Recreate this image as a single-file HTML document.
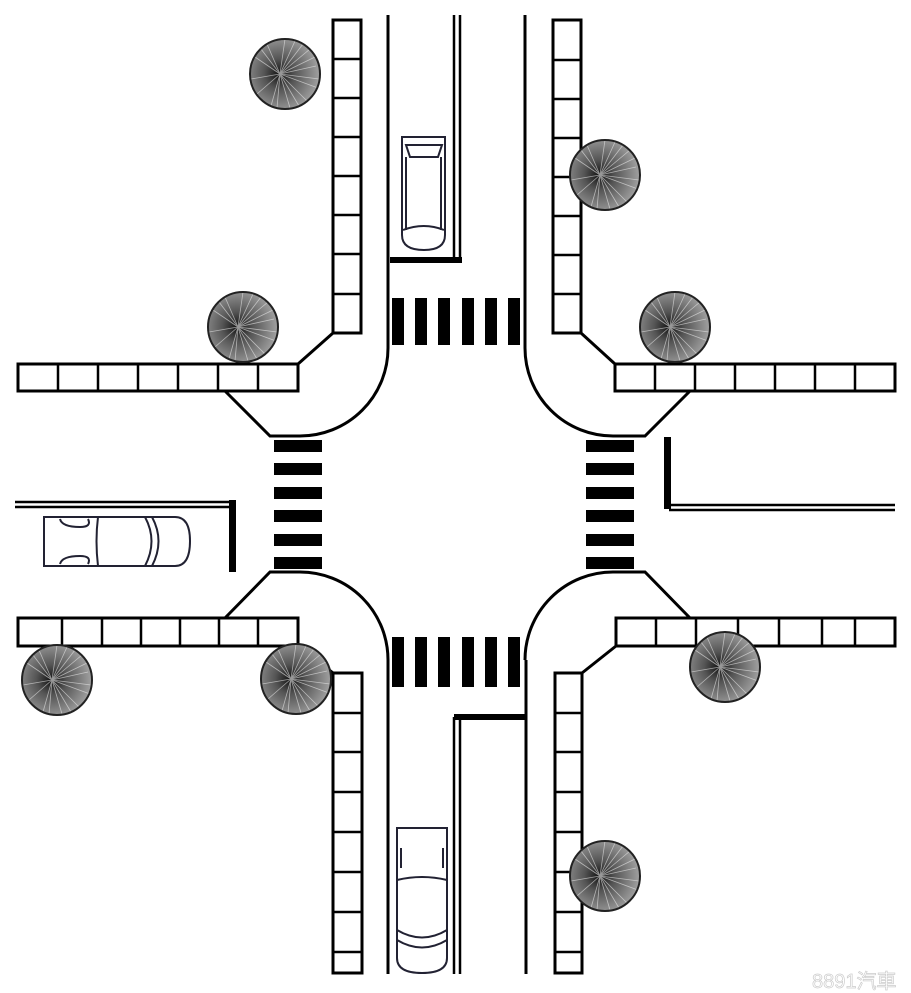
<!DOCTYPE html>
<html><head><meta charset="utf-8"><style>html,body{margin:0;padding:0;background:#fff}svg{display:block}</style></head>
<body>
<svg width="911" height="993" viewBox="0 0 911 993" xmlns="http://www.w3.org/2000/svg">
<defs>
<radialGradient id="tg" cx="0.42" cy="0.5" r="0.62">
<stop offset="0" stop-color="#111"/><stop offset="0.35" stop-color="#555"/><stop offset="1" stop-color="#aaa"/>
</radialGradient>
<g id="tree">
<circle r="35" fill="url(#tg)"/>
<g stroke="#eee" stroke-width="0.8" opacity="0.6">
<line x1="-5" y1="0" x2="34" y2="5"/><line x1="-5" y1="0" x2="30" y2="-17"/><line x1="-5" y1="0" x2="18" y2="-30"/>
<line x1="-5" y1="0" x2="0" y2="-35"/><line x1="-5" y1="0" x2="-18" y2="-30"/><line x1="-5" y1="0" x2="-30" y2="-17"/>
<line x1="-5" y1="0" x2="-34" y2="5"/><line x1="-5" y1="0" x2="-28" y2="20"/><line x1="-5" y1="0" x2="-14" y2="32"/>
<line x1="-5" y1="0" x2="5" y2="34"/><line x1="-5" y1="0" x2="22" y2="27"/><line x1="-5" y1="0" x2="33" y2="14"/>
<line x1="-5" y1="0" x2="25" y2="-25"/><line x1="-5" y1="0" x2="10" y2="-33"/><line x1="-5" y1="0" x2="14" y2="32"/>
<line x1="-5" y1="0" x2="-8" y2="34"/><line x1="-5" y1="0" x2="-24" y2="-25"/><line x1="-5" y1="0" x2="31" y2="-8"/>
</g>
<circle r="35" fill="none" stroke="#222" stroke-width="2"/>
</g>
</defs>
<g fill="none" stroke="#000" stroke-width="3">
<line x1="388" y1="15" x2="388" y2="348"/>
<line x1="525" y1="15" x2="525" y2="348"/>
<path d="M388 348 A88 88 0 0 1 300 436 L270 436 L225 391"/>
<path d="M525 348 A88 88 0 0 0 613 436 L645 436 L690 391"/>
<path d="M388 660 A88 88 0 0 0 300 572 L270 572 L225 618"/>
<path d="M525 660 A88 88 0 0 1 613 572 L645 572 L690 618"/>
<line x1="388" y1="660" x2="388" y2="974"/>
<line x1="526" y1="660" x2="526" y2="974"/>
<rect x="333" y="20" width="28" height="313"/>
<rect x="553" y="20" width="28" height="313"/>
<rect x="333" y="673" width="29" height="300"/>
<rect x="555" y="673" width="27" height="300"/>
<rect x="18" y="364" width="280" height="27"/>
<rect x="615" y="364" width="280" height="27"/>
<rect x="18" y="618" width="280" height="28"/>
<rect x="616" y="618" width="279" height="28"/>
<line x1="333" y1="333" x2="298" y2="364"/>
<line x1="581" y1="333" x2="615" y2="364"/>
<line x1="333" y1="673" x2="298" y2="646"/>
<line x1="582" y1="673" x2="616" y2="646"/>
</g>
<g stroke="#000" stroke-width="2.5">
<path d="M333 59H361M333 98H361M333 137H361M333 176H361M333 215H361M333 254H361M333 294H361"/>
<path d="M553 60H581M553 99H581M553 138H581M553 177H581M553 216H581M553 255H581M553 294H581"/>
<path d="M333 713H362M333 752H362M333 792H362M333 832H362M333 872H362M333 912H362M333 952H362"/>
<path d="M555 713H582M555 752H582M555 792H582M555 832H582M555 872H582M555 912H582M555 952H582"/>
<path d="M58 364V391M98 364V391M138 364V391M178 364V391M218 364V391M258 364V391"/>
<path d="M655 364V391M695 364V391M735 364V391M775 364V391M815 364V391M855 364V391"/>
<path d="M62 618V646M102 618V646M141 618V646M180 618V646M219 618V646M258 618V646"/>
<path d="M656 618V646M696 618V646M738 618V646M779 618V646M822 618V646M855 618V646"/>
<path d="M454 15V262M460 15V262"/>
<path d="M454 717V974M460 720V974"/>
<path d="M15 502H233M15 507H230"/>
<path d="M667 505H895M669 510H895"/>
</g>
<g fill="#000">
<rect x="390" y="257" width="72" height="6"/>
<rect x="454" y="714" width="72" height="6"/>
<rect x="229" y="500" width="7" height="72"/>
<rect x="664" y="437" width="7" height="72"/>
<rect x="392" y="298" width="12" height="47"/><rect x="415" y="298" width="12" height="47"/><rect x="438" y="298" width="12" height="47"/><rect x="462" y="298" width="12" height="47"/><rect x="485" y="298" width="12" height="47"/><rect x="508" y="298" width="12" height="47"/>
<rect x="392" y="637" width="12" height="50"/><rect x="415" y="637" width="12" height="50"/><rect x="438" y="637" width="12" height="50"/><rect x="462" y="637" width="12" height="50"/><rect x="485" y="637" width="12" height="50"/><rect x="508" y="637" width="12" height="50"/>
<rect x="274" y="440" width="48" height="12"/><rect x="274" y="463" width="48" height="12"/><rect x="274" y="487" width="48" height="12"/><rect x="274" y="510" width="48" height="12"/><rect x="274" y="534" width="48" height="12"/><rect x="274" y="557" width="48" height="12"/>
<rect x="586" y="440" width="48" height="12"/><rect x="586" y="463" width="48" height="12"/><rect x="586" y="487" width="48" height="12"/><rect x="586" y="510" width="48" height="12"/><rect x="586" y="534" width="48" height="12"/><rect x="586" y="557" width="48" height="12"/>
</g>
<g fill="#fff" stroke="#223" stroke-width="2">
<path d="M402 137 H445 V235 Q445 250 424 250 Q402 250 402 235 Z"/>
<path d="M403 230 Q424 222 444 230 M406 145 L442 145 L438 157 L410 157 Z" fill="none"/>
<path d="M406 157 V230 M441 157 V230" fill="none"/>
<path d="M44 517 H175 Q190 517 190 541 Q190 566 175 566 H44 Z"/>
<path d="M98 517 Q95 541 98 566 M145 517 Q158 541 145 566 M152 517 Q165 541 152 566 M60 519 Q62 527 80 527 Q92 527 88 519 M60 564 Q62 556 80 556 Q92 556 88 564" fill="none"/>
<path d="M397 828 H447 V958 Q447 973 422 973 Q397 973 397 958 Z"/>
<path d="M397 880 Q422 874 447 880 M397 930 Q422 945 447 930 M397 940 Q422 955 447 940 M401 848 V868 M443 848 V868" fill="none"/>
</g>
<use href="#tree" x="285" y="74"/>
<use href="#tree" x="605" y="175"/>
<use href="#tree" x="243" y="327"/>
<use href="#tree" x="675" y="327"/>
<use href="#tree" x="57" y="680"/>
<use href="#tree" x="296" y="679"/>
<use href="#tree" x="725" y="667"/>
<use href="#tree" x="605" y="876"/>
<text x="812" y="988" font-family="'Liberation Sans','Noto Sans CJK TC',sans-serif" font-size="20" fill="#fff" stroke="#ccc" stroke-width="0.7">8891汽車</text>
</svg>
</body></html>
